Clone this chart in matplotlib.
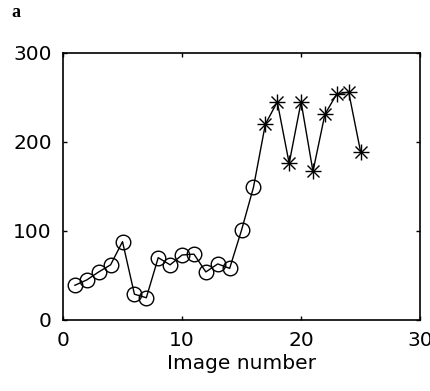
import numpy as np
import matplotlib.pyplot as plt

plt.rcParams['font.family'] = ['DejaVu Sans']

# image index and measured value
circle_x = [1, 2, 3, 4, 5, 6, 7, 8, 9, 10, 11, 12, 13, 14, 15, 16]
circle_y = [39, 45, 54, 62, 88, 29, 25, 70, 62, 73, 74, 54, 63, 58, 101, 149]
star_x = [17, 18, 19, 20, 21, 22, 23, 24, 25]
star_y = [220, 245, 176, 245, 167, 231, 254, 256, 189]

x_ticks = [0, 10, 20, 30]
y_ticks = [0, 100, 200, 300]

fig = plt.figure(figsize=(4.3, 3.91), dpi=100)
ax = fig.add_axes([0.1465, 0.1816, 0.8305, 0.6829])

all_x = circle_x + star_x
all_y = circle_y + star_y
ax.plot(all_x, all_y, color='black', linewidth=1.0)
ax.plot(circle_x, circle_y, linestyle='none', marker='o', markersize=10.5,
        markerfacecolor='none', markeredgecolor='black', markeredgewidth=1.0)
ax.plot(star_x, star_y, linestyle='none', marker='+', markersize=12,
        color='black', markeredgewidth=1.0)
ax.plot(star_x, star_y, linestyle='none', marker='x', markersize=9,
        color='black', markeredgewidth=1.0)

ax.set_xlim(0, 30)
ax.set_ylim(0, 300)
ax.set_xticks(x_ticks)
ax.set_yticks(y_ticks)
ax.tick_params(direction='in', length=3, width=1.0, top=True, right=True,
               labelsize=14.5, pad=8)
for s in ax.spines.values():
    s.set_linewidth(1.2)
ax.set_xlabel('Image number', fontsize=14.5, labelpad=3)

fig.text(0.027, 0.967, 'a', fontsize=13, fontweight='bold',
         family='Liberation Serif', va='center')

fig.savefig('out.png', dpi=100)
